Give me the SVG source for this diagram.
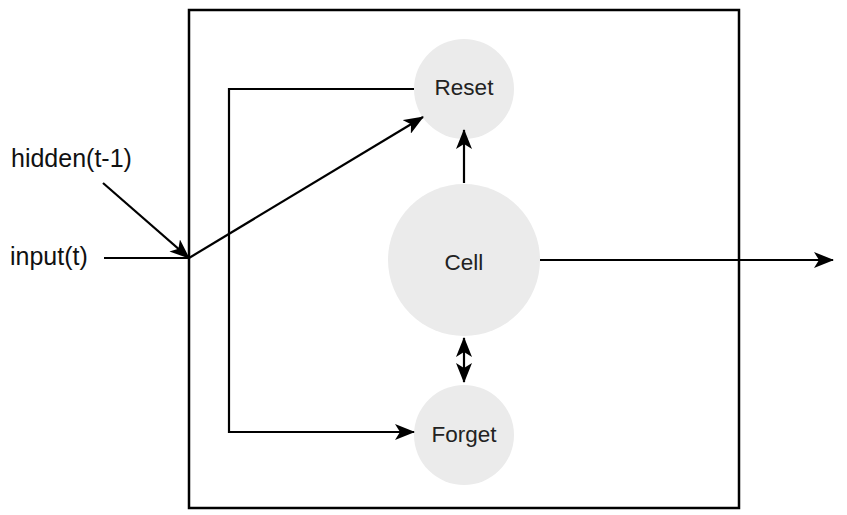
<svg xmlns="http://www.w3.org/2000/svg" width="847" height="515" viewBox="0 0 847 515">
<style>
.node{fill:#ebebeb;stroke:none}
.lbl{font-family:"Liberation Sans",Arial,sans-serif;font-size:22.5px;fill:#222;text-anchor:middle}
.side{font-family:"Liberation Sans",Arial,sans-serif;font-size:25px;fill:#111}
.ln{stroke:#000;stroke-width:2.2;fill:none}
</style>
<defs>
<marker id="ah" viewBox="0 0 20 16" refX="19" refY="8" markerWidth="20" markerHeight="16" markerUnits="userSpaceOnUse" orient="auto-start-reverse">
<path d="M0,0 L20,8 L0,16 L5,8 Z" fill="#000"/>
</marker>
</defs>
<rect x="189" y="10" width="550" height="498" fill="#fff" stroke="#000" stroke-width="2.5"/>
<g id="reset"><circle class="node" cx="464" cy="89" r="50"/><text class="lbl" x="464" y="95">Reset</text></g>
<g id="cell"><circle class="node" cx="464" cy="260" r="76"/><text class="lbl" x="464" y="270">Cell</text></g>
<g id="forget"><circle class="node" cx="464" cy="435" r="50"/><text class="lbl" x="464" y="442">Forget</text></g>
<g id="hidden"><text class="side" x="11" y="167">hidden(t-1)</text></g>
<g id="input"><text class="side" x="10" y="265">input(t)</text></g>
<g id="connectors">
<polyline class="ln" points="414,89 229,89 229,432 414,432" marker-end="url(#ah)"/>
<line class="ln" x1="104" y1="258" x2="189" y2="258"/>
<line class="ln" x1="103" y1="183" x2="189" y2="258" marker-end="url(#ah)"/>
<line class="ln" x1="189" y1="258" x2="423" y2="117" marker-end="url(#ah)"/>
<line class="ln" x1="464" y1="183" x2="464" y2="130" marker-end="url(#ah)"/>
<line class="ln" x1="464" y1="338" x2="464" y2="382" marker-start="url(#ah)" marker-end="url(#ah)"/>
<line class="ln" x1="540" y1="260" x2="833" y2="260" marker-end="url(#ah)"/>
</g>
</svg>
